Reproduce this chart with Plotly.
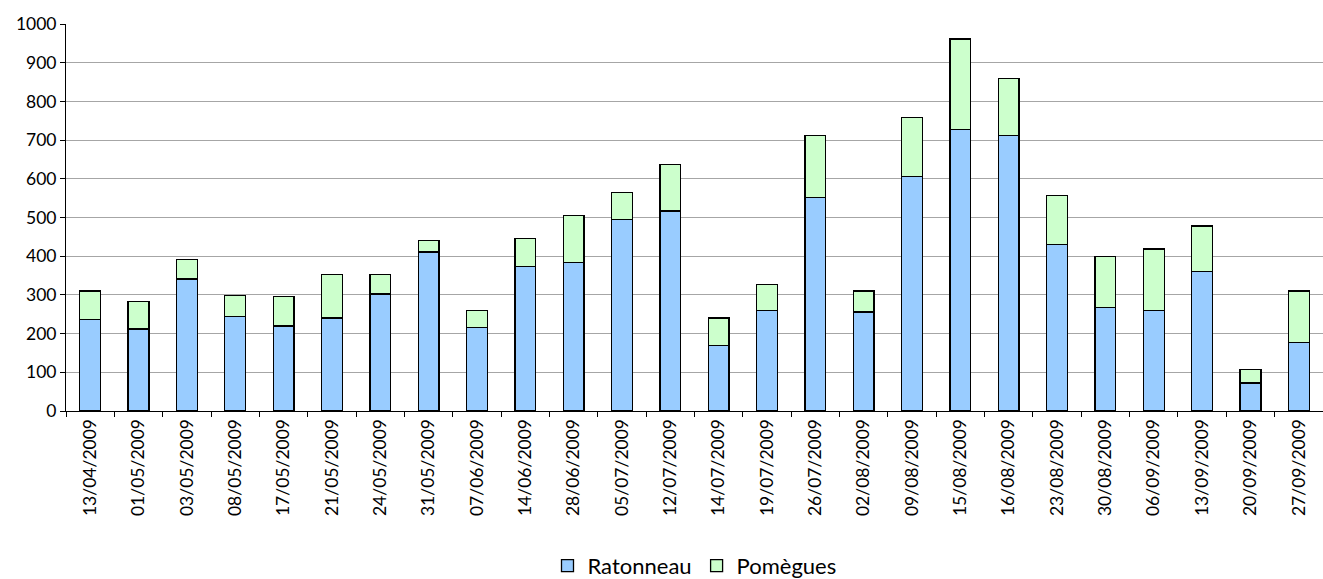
import plotly.graph_objects as go

dates = ["13/04/2009", "01/05/2009", "03/05/2009", "08/05/2009", "17/05/2009",
         "21/05/2009", "24/05/2009", "31/05/2009", "07/06/2009", "14/06/2009",
         "28/06/2009", "05/07/2009", "12/07/2009", "14/07/2009", "19/07/2009",
         "26/07/2009", "02/08/2009", "09/08/2009", "15/08/2009", "16/08/2009",
         "23/08/2009", "30/08/2009", "06/09/2009", "13/09/2009", "20/09/2009",
         "27/09/2009"]

ratonneau = [236, 212, 341, 244, 220, 240, 302, 411, 216, 373,
             384, 494, 517, 170, 259, 552, 256, 606, 727, 711,
             431, 267, 259, 360, 72, 177]

pomegues = [74, 71, 51, 54, 75, 112, 50, 29, 43, 73,
            121, 70, 120, 70, 67, 159, 54, 152, 234, 149,
            125, 133, 160, 118, 35, 133]

FONT = "Lato, 'Open Sans', sans-serif"

fig = go.Figure()
fig.add_trace(go.Bar(x=dates, y=ratonneau, name="Ratonneau",
                     marker=dict(color="#99CCFF", line=dict(color="#000000", width=1.3))))
fig.add_trace(go.Bar(x=dates, y=pomegues, name="Pomègues",
                     marker=dict(color="#CCFFCC", line=dict(color="#000000", width=1.3))))

fig.update_layout(
    width=1323, height=579,
    barmode="stack", bargap=0.57,
    plot_bgcolor="white", paper_bgcolor="white",
    margin=dict(l=66, r=0, t=24, b=168, autoexpand=False),
    font=dict(family=FONT, size=17, color="#000000"),
    legend=dict(orientation="h", x=0.5, xanchor="center", y=-0.40, yanchor="middle",
                traceorder="normal", font=dict(size=22), itemwidth=30),
    showlegend=True,
)
fig.update_xaxes(type="category", tickangle=-90, ticks="outside", tickson="boundaries",
                 ticklen=5, tickcolor="#000000", showline=True, linecolor="#000000",
                 linewidth=1, showgrid=False, tickfont=dict(size=17.5), automargin=False)
fig.update_yaxes(range=[0, 1000], dtick=100, ticks="outside", ticklen=5,
                 tickcolor="#000000", showline=True, linecolor="#000000", linewidth=1,
                 showgrid=True, gridcolor="#a6a6a6", gridwidth=1, zeroline=False,
                 tickfont=dict(size=17.5), automargin=False)

fig.write_html("out.html", config={"displayModeBar": False},
               post_script="document.body.style.margin='0';document.body.style.overflow='hidden';")
